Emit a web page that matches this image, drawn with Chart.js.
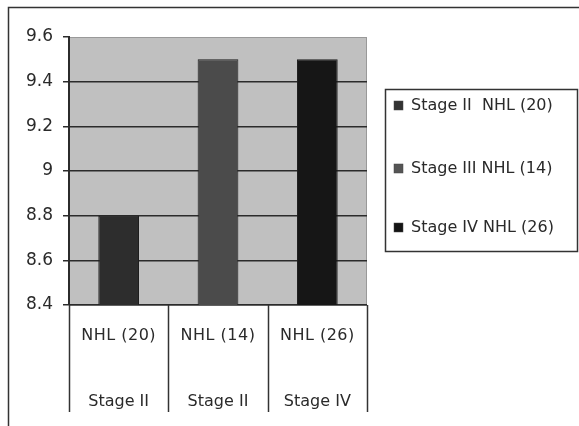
<!DOCTYPE html>
<html>
<head>
<meta charset="utf-8">
<script src="https://cdn.jsdelivr.net/npm/chart.js@4"></script>
<style>
  html, body { margin: 0; padding: 0; background: #fff; }
  #wrap { width: 579px; height: 426px; }
</style>
</head>
<body>
<div id="wrap"><canvas id="c" width="579" height="426"></canvas></div>
<script>
// ---- data ----
const categories = ["NHL (20)", "NHL (14)", "NHL (26)"];
const stageLabels = ["Stage II", "Stage II", "Stage IV"];
const seriesLabels = ["Stage II  NHL (20)", "Stage III NHL (14)", "Stage IV NHL (26)"];
const seriesValues = [8.8, 9.5, 9.5];
const yTicks = [8.4, 8.6, 8.8, 9, 9.2, 9.4, 9.6];

const barColors = ["#2d2d2d", "#4b4b4b", "#161616"];
const markerColors = ["#333333", "#555555", "#141414"];
const FONT = "'DejaVu Sans', Verdana, sans-serif";

const datasets = seriesValues.map((v, i) => ({
  label: seriesLabels[i],
  data: categories.map((_, j) => (j === i ? v : null)),
  backgroundColor: barColors[i],
  borderColor: "#1e1e1e",
  borderWidth: 1,
  grouped: false,
  barPercentage: 0.41,
  categoryPercentage: 1.0
}));

const framePlugin = {
  id: "frame",
  beforeDraw(chart) {
    const { ctx, chartArea: a } = chart;
    ctx.save();
    ctx.fillStyle = "#ffffff";
    ctx.fillRect(0, 0, chart.width, chart.height);
    // outer frame
    ctx.strokeStyle = "#333";
    ctx.lineWidth = 1.5;
    ctx.beginPath();
    ctx.moveTo(8.5, 426);
    ctx.lineTo(8.5, 7.5);
    ctx.lineTo(579, 7.5);
    ctx.stroke();
    // plot background
    ctx.fillStyle = "#c0c0c0";
    ctx.fillRect(a.left, a.top, a.right - a.left, a.bottom - a.top);
    ctx.strokeStyle = "#999";
    ctx.lineWidth = 1;
    ctx.strokeRect(a.left + 0.5, a.top + 0.5, a.right - a.left - 1, a.bottom - a.top);
    ctx.restore();
  },
  afterDraw(chart) {
    const { ctx, chartArea: a } = chart;
    const xs = chart.scales.x;
    ctx.save();
    // category separators
    ctx.strokeStyle = "#333";
    ctx.lineWidth = 1.5;
    const n = categories.length;
    const w = (a.right - a.left) / n;
    for (let i = 0; i <= n; i++) {
      const x = i < n ? xs.getPixelForValue(i) - w / 2 : xs.getPixelForValue(n - 1) + w / 2;
      ctx.beginPath();
      ctx.moveTo(Math.round(x) + 0.5, a.bottom);
      ctx.lineTo(Math.round(x) + 0.5, 412);
      ctx.stroke();
    }
    // category labels (two rows)
    ctx.fillStyle = "#2a2a2a";
    ctx.font = "16px " + FONT;
    ctx.textAlign = "center";
    ctx.textBaseline = "middle";
    categories.forEach((c, i) => {
      const x = xs.getPixelForValue(i);
      ctx.letterSpacing = "0.5px";
      ctx.fillText(c, x, 336);
      ctx.letterSpacing = "0px";
      ctx.fillText(stageLabels[i], x, 402);
    });
    // legend
    const lx = 385, ly = 89, lw = 193, lh = 163;
    ctx.strokeStyle = "#333";
    ctx.lineWidth = 1.5;
    ctx.fillStyle = "#fff";
    ctx.fillRect(lx, ly, lw, lh);
    ctx.strokeRect(lx + 0.5, ly + 0.5, lw - 1, lh - 1);
    const rows = [105, 168, 227];
    ctx.textAlign = "left";
    ctx.font = "16px " + FONT;
    chart.data.datasets.forEach((d, i) => {
      ctx.fillStyle = markerColors[i];
      ctx.fillRect(394, rows[i] - 4, 9, 9);
      ctx.strokeStyle = "#444";
      ctx.lineWidth = 0.5;
      ctx.strokeRect(394, rows[i] - 4, 9, 9);
      ctx.fillStyle = "#2a2a2a";
      ctx.fillText(d.label, 411, rows[i] + 1);
    });
    ctx.restore();
  }
};

new Chart(document.getElementById("c"), {
  type: "bar",
  data: { labels: categories, datasets },
  options: {
    responsive: false,
    animation: false,
    devicePixelRatio: 1,
    layout: { padding: { left: 0, top: 37, right: 212, bottom: 0 } },
    plugins: { legend: { display: false }, tooltip: { enabled: false } },
    scales: {
      x: {
        ticks: { display: false },
        grid: { display: false },
        border: { display: false },
        afterFit(s) { s.height = 121; }
      },
      y: {
        min: 8.4,
        max: 9.6,
        afterBuildTicks(s) { s.ticks = yTicks.map(v => ({ value: v })); },
        afterFit(s) { s.width = 69; },
        ticks: {
          color: "#2a2a2a",
          font: { family: FONT, size: 17 },
          padding: 10,
          callback: (v) => String(Math.round(v * 10) / 10)
        },
        grid: {
          color: (c) => (c.tick && c.tick.value === 9.6 ? "rgba(0,0,0,0)" : "#2b2b2b"),
          tickColor: "#2b2b2b",
          lineWidth: 1.5,
          tickLength: 6
        },
        border: { color: "#2b2b2b", width: 2 }
      }
    }
  },
  plugins: [framePlugin]
});
</script>
</body>
</html>
